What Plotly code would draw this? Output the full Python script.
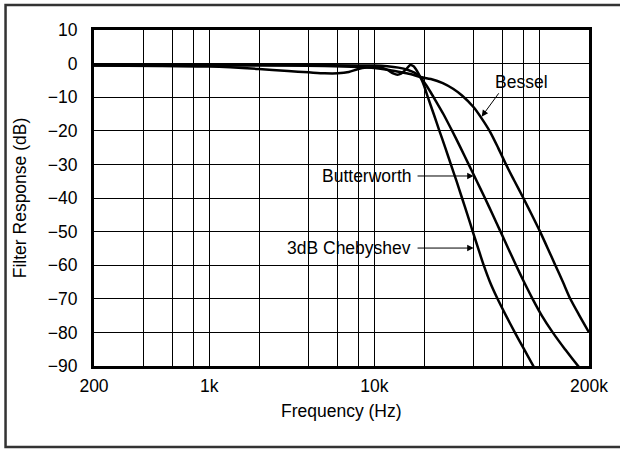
import math
import plotly.graph_objects as go

# ---- data ----
cheb_f = [200, 500, 1000, 2000, 3000, 4000, 5000, 6000, 7000, 8000, 9000, 10000, 11000,
          12000, 13000, 13800, 14500, 15500, 16500, 17300, 18200, 19000, 20000, 21100,
          22900, 24800, 26900, 29100, 31500, 34000, 36700, 39500, 42600, 46000, 50200,
          55800, 62800, 71000, 80800, 92000, 100000]
cheb_db = [-0.6, -0.7, -0.9, -1.6, -2.2, -2.6, -2.9, -2.9, -2.5, -1.6, -1.2, -1.1, -1.2,
           -1.9, -2.9, -3.3, -3.0, -1.8, -0.4, -0.8, -2.3, -4.0, -6.5, -10, -15, -20, -25,
           -30, -35, -40, -45, -50, -55, -60, -65, -70, -75, -80, -85, -90, -93]

butter_f = [200, 1000, 5000, 10000, 12000, 14000, 16000, 17500, 19000, 20500, 22000, 23500,
            26200, 29600, 33300, 37300, 41800, 46800, 52200, 58200, 64800, 72200, 80800,
            91000, 103500, 120500, 143000, 172000, 200000]
butter_db = [-0.5, -0.5, -0.5, -0.6, -0.8, -1.2, -1.9, -2.7, -4.0, -6.2, -8.6, -11, -15,
             -20, -25, -30, -35, -40, -45, -50, -55, -60, -65, -70, -75, -80, -85, -90, -93]

bessel_f = [200, 2000, 5000, 8000, 10000, 12000, 14000, 16500, 19000, 22000, 26000, 30000,
            34000, 40000, 44700, 50300, 56200, 62800, 70800, 80000, 90000, 101000, 112500,
            125000, 139000, 154000, 175000, 200000]
bessel_db = [-0.5, -0.5, -0.7, -1.0, -1.3, -1.8, -2.4, -3.1, -4.0, -4.6, -5.8, -7.5, -9.5,
             -13, -16.3, -20.3, -25, -30, -35, -40, -45, -50, -55, -60, -65, -70, -75, -80]

x_tick_vals = [200, 1000, 10000, 200000]
x_tick_text = ["200", "1k", "10k", "200k"]
x_minor_vals = [400, 600, 800, 1000, 2000, 4000, 6000, 8000, 10000,
                20000, 40000, 60000, 80000, 100000]
y_tick_vals = [10, 0, -10, -20, -30, -40, -50, -60, -70, -80, -90]

FONT = "Liberation Sans, Arial, sans-serif"
FS = 17.5

fig = go.Figure()
for fx, fy in [(bessel_f, bessel_db), (butter_f, butter_db), (cheb_f, cheb_db)]:
    fig.add_trace(go.Scatter(x=fx, y=fy, mode="lines",
                             line=dict(color="black", width=2.5, shape="spline", smoothing=0.7),
                             showlegend=False, hoverinfo="skip"))

lg = math.log10

def arrow(tip, tail):
    return dict(x=lg(tip[0]), y=tip[1], ax=lg(tail[0]), ay=tail[1], axref="x", ayref="y",
                xref="x", yref="y", text="", showarrow=True, arrowhead=2, arrowsize=1.3,
                arrowwidth=1, arrowcolor="black", standoff=0, startstandoff=0)

annotations = [
    arrow((44700, -15.8), (57600, -8.4)),
    arrow((40000, -33.45), (17900, -33.45)),
    arrow((40000, -54.9), (17900, -54.9)),
    dict(x=lg(77900), y=-5.6, xref="x", yref="y", text="Bessel", showarrow=False,
         font=dict(family=FONT, size=FS, color="black")),
    dict(x=lg(17100), y=-33.45, xref="x", yref="y", text="Butterworth", showarrow=False,
         xanchor="right", font=dict(family=FONT, size=FS, color="black")),
    dict(x=lg(17100), y=-54.9, xref="x", yref="y", text="3dB Chebyshev", showarrow=False,
         xanchor="right", font=dict(family=FONT, size=FS, color="black")),
    dict(x=0.5, y=-0.135, xref="paper", yref="paper", text="Frequency (Hz)", showarrow=False,
         xanchor="center", yanchor="middle", font=dict(family=FONT, size=FS, color="black")),
    dict(x=-0.149, y=0.5, xref="paper", yref="paper", text="Filter Response (dB)",
         showarrow=False, textangle=-90, xanchor="center", yanchor="middle",
         font=dict(family=FONT, size=FS, color="black")),
]

fig.update_layout(
    width=620, height=451,
    margin=dict(l=94, r=28, t=30, b=85),
    paper_bgcolor="white", plot_bgcolor="white",
    font=dict(family=FONT, size=FS, color="black"),
    annotations=annotations,
    shapes=[dict(type="rect", xref="paper", yref="paper", x0=-0.1787, x1=1.2,
                 y0=-0.2411, y1=1.0744, line=dict(color="#333333", width=2.5),
                 fillcolor="rgba(0,0,0,0)", layer="below")],
)
fig.update_xaxes(type="log", range=[lg(200), lg(200000)], tickvals=x_tick_vals,
                 ticktext=x_tick_text, showgrid=True, gridcolor="black", gridwidth=1,
                 showline=True, linecolor="black", linewidth=2.5, mirror=True,
                 ticks="", ticklabelstandoff=2, zeroline=False,
                 minor=dict(tickvals=x_minor_vals, showgrid=True, gridcolor="black",
                            gridwidth=1, ticks=""))
fig.update_yaxes(range=[-90, 10], tickvals=y_tick_vals, showgrid=True, gridcolor="black",
                 gridwidth=1, showline=True, linecolor="black", linewidth=3, mirror=True,
                 ticks="", ticklabelstandoff=10, zeroline=False)

fig.write_html("out.html")
